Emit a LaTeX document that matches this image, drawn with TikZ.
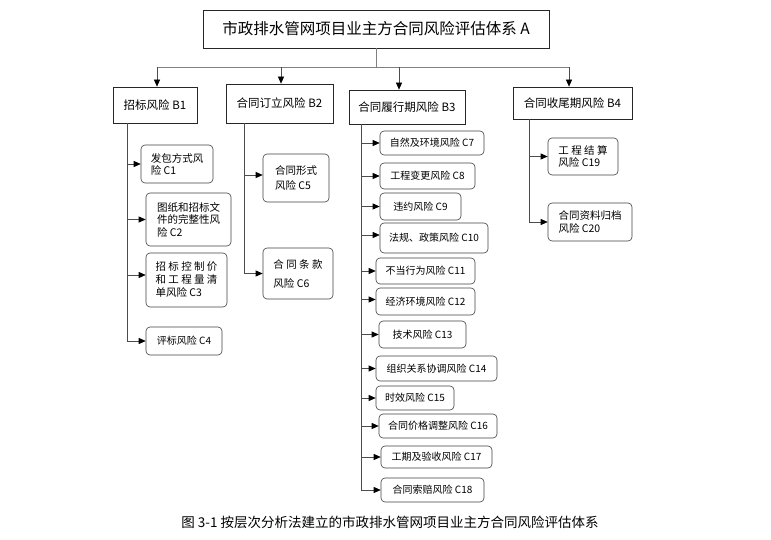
\documentclass[tikz,border=0pt]{standalone}
\usepackage{fontspec}
\setmainfont{Noto Sans CJK SC}
\usetikzlibrary{arrows.meta}
\tikzset{
  topbox/.style={draw=black!85, line width=0.8pt, inner sep=0pt, font=\fontsize{15.5}{17}\selectfont},
  bbox/.style={draw=black!85, line width=0.7pt, inner sep=0pt, font=\fontsize{11.5}{13}\selectfont},
  cbox/.style={draw=black!75, line width=0.6pt, rounded corners=4pt, inner sep=0pt, align=left, font=\fontsize{10}{12.5}\selectfont},
  busline/.style={draw=black!50, line width=0.8pt},
  trunk/.style={draw=black!70, line width=0.7pt},
  arr/.style={draw=black!70, line width=0.7pt, -{Triangle[length=7pt,width=6pt,color=black]}},
}
\begin{document}
\begin{tikzpicture}[x=1pt,y=-1pt]
\useasboundingbox (0,0) rectangle (771,540);

% top node
\node[topbox, minimum width=346pt, minimum height=38pt] (A) at (376,29) {市政排水管网项目业主方合同风险评估体系 A};

% level B
\node[bbox, minimum width=84pt, minimum height=36pt] (B1) at (155,105) {招标风险 B1};
\node[bbox, minimum width=107pt, minimum height=39pt] (B2) at (279.5,103.5) {合同订立风险 B2};
\node[bbox, minimum width=116pt, minimum height=34pt] (B3) at (407,107) {合同履行期风险 B3};
\node[bbox, minimum width=119pt, minimum height=32pt] (B4) at (572.5,103) {合同收尾期风险 B4};

% bus
\coordinate (bus) at (376,67);
\coordinate (b1) at (157,0);
\coordinate (b2) at (281,0);
\coordinate (b3) at (399,0);
\coordinate (b4) at (569,0);
\draw[busline] (A.south) -- (bus);
\draw[busline] (b1 |- bus) -- (b4 |- bus);
\draw[arr] (b1 |- bus) -- (b1 |- B1.north);
\draw[arr] (b2 |- bus) -- (b2 |- B2.north);
\draw[arr] (b3 |- bus) -- (b3 |- B3.north);
\draw[arr] (b4 |- bus) -- (b4 |- B4.north);

% B1 children
\node[cbox, minimum width=72pt, minimum height=38pt, font=\fontsize{10.5}{12}\selectfont] (C1) at (177,164) {发包方式风\\险 C1};
\node[cbox, minimum width=85pt, minimum height=53pt, font=\fontsize{10.5}{12.5}\selectfont] (C2) at (188.5,219.5) {图纸和招标文\\件的完整性风\\险 C2};
\node[cbox, minimum width=81pt, minimum height=54pt, font=\fontsize{10.5}{13}\selectfont] (C3) at (186.5,280) {招 标 控 制 价\\和 工 程 量 清\\单风险 C3};
\node[cbox, minimum width=76pt, minimum height=28pt] (C4) at (184,341) {评标风险 C4};

% B2 children
\node[cbox, minimum width=66pt, minimum height=48pt, font=\fontsize{10.5}{15}\selectfont] (C5) at (296,178) {合同形式\\风险 C5};
\node[cbox, minimum width=70pt, minimum height=51pt, font=\fontsize{10.5}{19}\selectfont] (C6) at (298,273.5) {合 同 条 款\\风险 C6};

% B3 children
\node[cbox, minimum width=104pt, minimum height=24pt] (C7) at (432,143) {自然及环境风险 C7};
\node[cbox, minimum width=95pt, minimum height=26pt] (C8) at (427.5,176) {工程变更风险 C8};
\node[cbox, minimum width=81pt, minimum height=27pt] (C9) at (420.5,206.5) {违约风险 C9};
\node[cbox, minimum width=108pt, minimum height=30pt] (C10) at (434,238) {法规、政策风险 C10};
\node[cbox, minimum width=99pt, minimum height=26pt] (C11) at (425.5,271) {不当行为风险 C11};
\node[cbox, minimum width=99pt, minimum height=27pt] (C12) at (425.5,301.5) {经济环境风险 C12};
\node[cbox, minimum width=87pt, minimum height=27pt] (C13) at (422.5,334.5) {技术风险 C13};
\node[cbox, minimum width=121pt, minimum height=25pt] (C14) at (436.5,368.5) {组织关系协调风险 C14};
\node[cbox, minimum width=78pt, minimum height=24pt] (C15) at (415,398) {时效风险 C15};
\node[cbox, minimum width=118pt, minimum height=24pt] (C16) at (438,426) {合同价格调整风险 C16};
\node[cbox, minimum width=111pt, minimum height=22pt] (C17) at (436.5,457) {工期及验收风险 C17};
\node[cbox, minimum width=103pt, minimum height=24pt] (C18) at (432.5,490) {合同索赔风险 C18};

% B4 children
\node[cbox, minimum width=70pt, minimum height=37pt, font=\fontsize{10.5}{12.5}\selectfont] (C19) at (583,156.5) {工 程 结 算\\风险 C19};
\node[cbox, minimum width=84pt, minimum height=38pt, font=\fontsize{10.5}{12.5}\selectfont] (C20) at (590,222) {合同资料归档\\风险 C20};

% trunks
\coordinate (t1) at (127,0);
\coordinate (t2) at (244,0);
\coordinate (t3) at (361,0);
\coordinate (t4) at (529,0);

\draw[trunk] (B1.south -| t1) -- (C4.west -| t1);
\foreach \c in {C1,C2,C4} \draw[arr] (\c.west -| t1) -- (\c.west);
\draw[arr] ([yshift=5pt]C3.west -| t1) -- ([yshift=5pt]C3.west);

\draw[trunk] (B2.south -| t2) -- (C6.west -| t2);
\draw[arr] ([yshift=3pt]C5.west -| t2) -- ([yshift=3pt]C5.west);
\draw[arr] (C6.west -| t2) -- (C6.west);

\draw[trunk] (B3.south -| t3) -- (C18.west -| t3);
\foreach \c in {C7,C8,C9,C11,C13,C14,C15,C16,C17,C18} \draw[arr] (\c.west -| t3) -- (\c.west);
\draw[arr] ([yshift=3pt]C10.west -| t3) -- ([yshift=3pt]C10.west);
\draw[arr] ([yshift=2pt]C12.west -| t3) -- ([yshift=2pt]C12.west);

\draw[trunk] (B4.south -| t4) -- (C20.west -| t4);
\foreach \c in {C19,C20} \draw[arr] (\c.west -| t4) -- (\c.west);

% caption
\node[font=\fontsize{13.5}{15}\selectfont, inner sep=0pt] (cap) at (390,522) {图 3-1 按层次分析法建立的市政排水管网项目业主方合同风险评估体系};
\end{tikzpicture}
\end{document}
